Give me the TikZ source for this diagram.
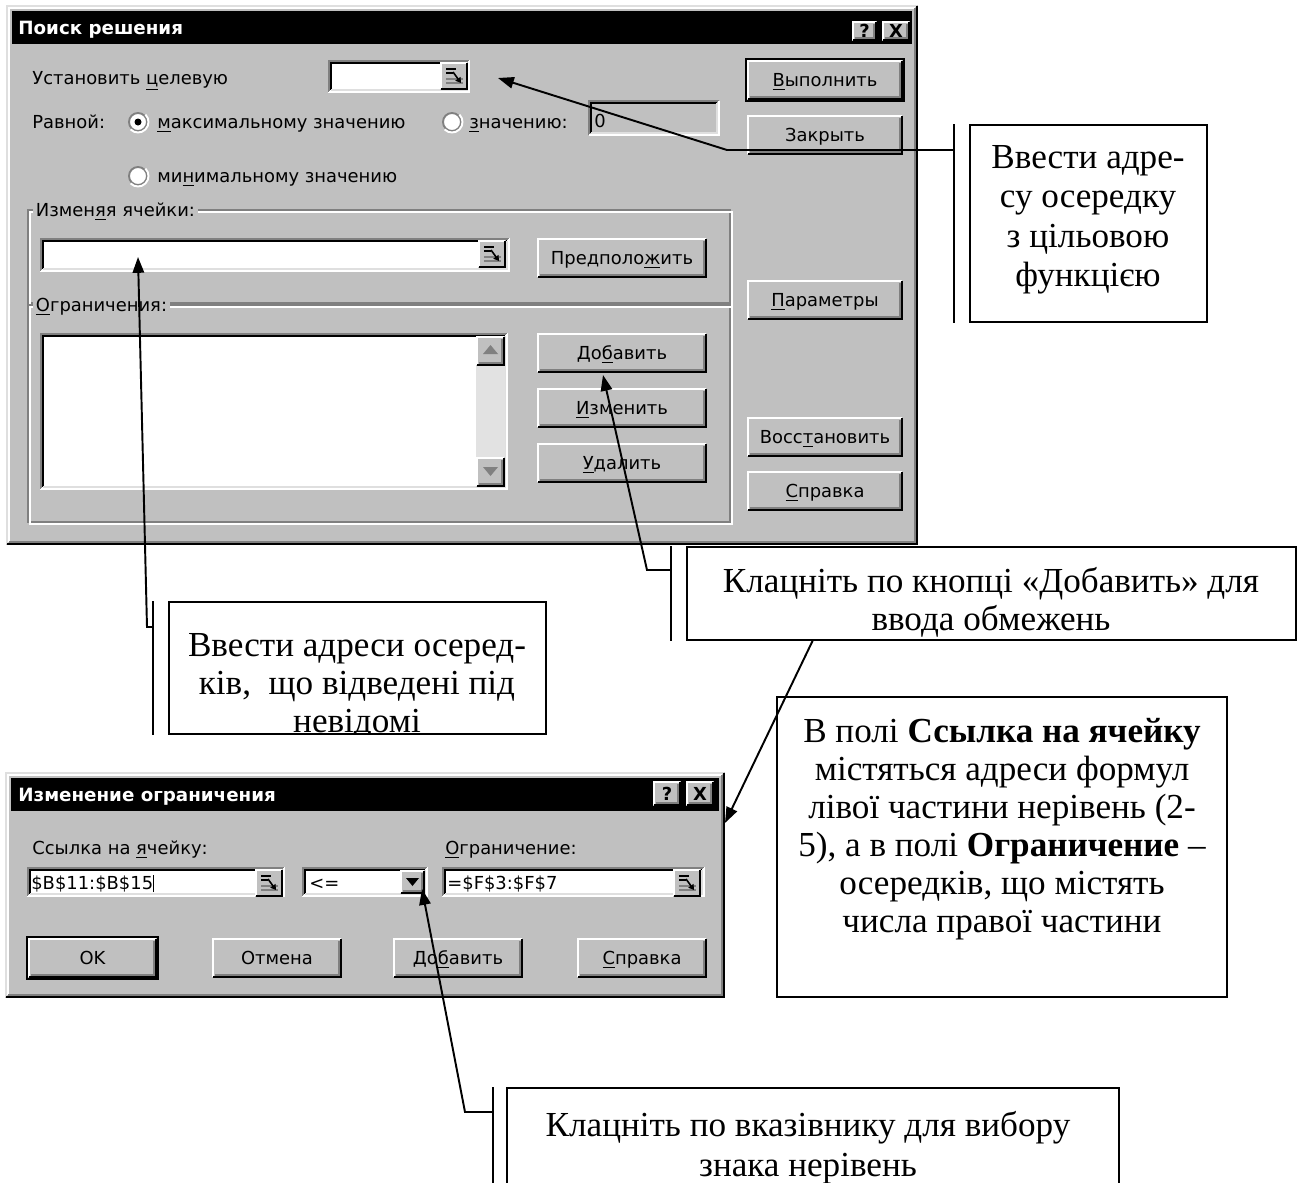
\documentclass[tikz,border=0pt]{standalone}
\usepackage{fontspec}
\setmainfont{Liberation Serif}
\newfontfamily\uifont{DejaVu Sans}
\usepackage{tikz}
\usetikzlibrary{arrows.meta, positioning, calc, fit}
\usepackage{xcolor}
\definecolor{winface}{HTML}{C0C0C0}
\definecolor{winshadow}{HTML}{808080}
\definecolor{winlight}{HTML}{DFDFDF}
\definecolor{windither}{HTML}{E2E2E2}

\begin{document}
\begin{tikzpicture}[x=0.02cm, y=-0.02cm,
    bevel/.style={line width=1.1pt},
    uitext/.style={font=\uifont\fontsize{10.2}{12}\selectfont, inner sep=0,
      text height=7.4pt, text depth=0pt},
    titletext/.style={font=\uifont\bfseries\fontsize{10.4}{12}\selectfont,
      text=white, inner sep=0, text height=7.6pt, text depth=0pt},
    callbox/.style={draw, line width=1.1pt, fill=white, inner sep=0},
    calltext/.style={font=\fontsize{20}{22.4}\selectfont, align=center, inner sep=0},
    accent/.style={line width=1.1pt},
    leader/.style={line width=1.1pt, -{Triangle[length=9pt, width=6.5pt]}}]
  \useasboundingbox (0,0) rectangle (1302,1183);

  % Dialog frames and title bars
  \foreach \xa/\ya/\xb/\yb in {6/5/918/545, 5/772/725/998} {
    \fill[winface] (\xa,\ya) rectangle (\xb,\yb);
    \draw[bevel, winlight] (\xa+1,\yb-1) -- (\xa+1,\ya+1) -- (\xb-1,\ya+1);
    \draw[bevel, white] (\xa+3,\yb-3) -- (\xa+3,\ya+3) -- (\xb-3,\ya+3);
    \draw[bevel, black] (\xa+1,\yb-1) -- (\xb-1,\yb-1) -- (\xb-1,\ya+1);
    \draw[bevel, winshadow] (\xa+3,\yb-3) -- (\xb-3,\yb-3) -- (\xb-3,\ya+3);
    \fill[black] (\xa+6,\ya+6) rectangle (\xb-6,\ya+39);
  }
  \node[titletext, anchor=west] (titleSolver) at (18,28) {Поиск решения};
  \node[titletext, anchor=west] (titleEdit) at (18,795) {Изменение ограничения};

  % Group frames
  \foreach \xa/\ya/\xb/\yb in {28/210/730/303, 28/305/730/522} {
    \draw[winshadow, line width=0.9pt] (\xa,\ya) rectangle (\xb,\yb);
    \draw[white, line width=0.9pt] (\xa+2,\ya+2) rectangle (\xb+2,\yb+2);
  }

  % Sunken fields
  \foreach \xa/\ya/\xb/\yb/\fcol in {328/60/470/93/white, 588/100/720/136/winface,
      40/238/510/272/white, 40/333/508/490/white, 27/867/285/897/white,
      302/867/428/897/white, 442/867/705/897/white} {
    \fill[\fcol] (\xa,\ya) rectangle (\xb,\yb);
    \draw[bevel, winshadow] (\xa+1,\yb-1) -- (\xa+1,\ya+1) -- (\xb-1,\ya+1);
    \draw[bevel, black] (\xa+3,\yb-3) -- (\xa+3,\ya+3) -- (\xb-3,\ya+3);
    \draw[bevel, white] (\xa+1,\yb-1) -- (\xb-1,\yb-1) -- (\xb-1,\ya+1);
    \draw[bevel, winlight] (\xa+3,\yb-3) -- (\xb-3,\yb-3) -- (\xb-3,\ya+3);
  }
  \fill[windither] (476,336) rectangle (505,487);

  % Raised buttons
  \foreach \xa/\ya/\xb/\yb/\bname/\txt in {
      852/21/877/41/help/{\bfseries ?}, 882/21/910/41/close/{\bfseries X},
      747/60/903/100/run/{\underline{В}ыполнить}, 747/115/903/155/quit/{Закрыть},
      747/280/903/320/opts/{\underline{П}араметры},
      747/417/903/457/reset/{Восс\underline{т}ановить},
      747/471/903/511/help1/{\underline{С}правка},
      537/238/707/278/guess/{Предполо\underline{ж}ить},
      537/333/707/373/add/{До\underline{б}авить},
      537/388/707/428/change/{\underline{И}зменить},
      537/443/707/483/delete/{\underline{У}далить},
      476/336/505/366/up/{}, 476/457/505/487/down/{},
      653/781/681/806/help2/{\bfseries ?}, 686/781/714/806/close2/{\bfseries X},
      400/870/425/894/drop/{},
      28/938/157/978/ok/{OK}, 212/938/342/978/cancel/{Отмена},
      393/938/523/978/add2/{До\underline{б}авить},
      577/938/707/978/help3/{\underline{С}правка}} {
    \fill[winface] (\xa,\ya) rectangle (\xb,\yb);
    \draw[bevel, white] (\xa+1,\yb-1) -- (\xa+1,\ya+1) -- (\xb-1,\ya+1);
    \draw[bevel, black] (\xa+1,\yb-1) -- (\xb-1,\yb-1) -- (\xb-1,\ya+1);
    \draw[bevel, winshadow] (\xa+3,\yb-3) -- (\xb-3,\yb-3) -- (\xb-3,\ya+3);
    \node[uitext] (btn-\bname) at ({(\xa+\xb)/2},{(\ya+\yb)/2}) {\txt};
  }
  % Default buttons
  \draw[bevel] (746,59) rectangle (904,101);
  \draw[bevel] (27,937) rectangle (158,979);

  % Arrow glyphs
  \fill[winshadow] (490.5,345) -- (483,354) -- (498,354) -- cycle;
  \fill[winshadow] (483,467) -- (498,467) -- (490.5,476) -- cycle;
  \fill (406,878) -- (419,878) -- (412.5,886) -- cycle;

  % Range picker icons
  \foreach \xa/\ya in {440/62, 478/240, 255/869, 673/869} {
    \fill[winface] (\xa,\ya) rectangle (\xa+28,\ya+28);
    \draw[bevel, white] (\xa+1,\ya+27) -- (\xa+1,\ya+1) -- (\xa+27,\ya+1);
    \draw[bevel, black] (\xa+1,\ya+27) -- (\xa+27,\ya+27) -- (\xa+27,\ya+1);
    \draw[line width=0.8pt] (\xa+6,\ya+7) -- (\xa+16,\ya+7)
      (\xa+6,\ya+11) -- (\xa+13,\ya+11);
    \draw[winshadow, line width=0.8pt] (\xa+6,\ya+17) -- (\xa+23,\ya+17)
      (\xa+6,\ya+21) -- (\xa+23,\ya+21);
    \draw[line width=0.9pt, -{Triangle[length=3pt, width=3.5pt]}]
      (\xa+13,\ya+10) -- (\xa+21,\ya+21);
  }

  % Radio buttons
  \foreach \cx/\cy in {138/122, 452/122, 138/176} {
    \fill[white] (\cx,\cy) circle (9);
    \draw[bevel, winshadow] (\cx,\cy) circle (9);
    \draw[bevel, white] (\cx,\cy) ++(-45:10.5) arc (-45:135:10.5);
  }
  \fill (138,122) circle (3.5);

  % Dialog texts
  \node[uitext, anchor=west] (lblTarget) at (32,78) {Установить \underline{ц}елевую};
  \node[uitext, anchor=west] (lblEqual) at (32,122) {Равной:};
  \node[uitext, anchor=west] (lblMax) at (157,122) {\underline{м}аксимальному значению};
  \node[uitext, anchor=west] (lblValue) at (469,122) {\underline{з}начению:};
  \node[uitext, anchor=west] (lblZero) at (594,121) {0};
  \node[uitext, anchor=west] (lblMin) at (157,176) {ми\underline{н}имальному значению};
  \node[uitext, anchor=west, fill=winface, inner xsep=1.5pt] (lblCells) at (33,210)
    {Измен\underline{я}я ячейки:};
  \node[uitext, anchor=west, fill=winface, inner xsep=1.5pt] (lblLimits) at (33,305)
    {\underline{О}граничения:};
  \node[uitext, anchor=west] (lblRef) at (32,848) {Ссылка на \underline{я}чейку:};
  \node[uitext, anchor=west] (lblLimit) at (445,848) {\underline{О}граничение:};
  \node[uitext, anchor=west] (valRef) at (31,883)
    {\$B\$11:\$B\$15\rule[-1.5pt]{0.7pt}{10pt}};
  \node[uitext, anchor=west] (valSign) at (309,883) {<=};
  \node[uitext, anchor=west] (valLimit) at (447,883) {=\$F\$3:\$F\$7};

  % Callout boxes
  \node[callbox, fit={(970,125) (1207,322)}] (goalBox) {};
  \node[calltext, anchor=north] (goalText) at (1088,145)
    {Ввести адре-\\су осередку\\з цільовою\\функцією};
  \node[callbox, fit={(169,602) (546,734)}] (cellsBox) {};
  \begin{scope}
    \clip (cellsBox.north west) rectangle (cellsBox.south east);
    \node[calltext, font=\fontsize{20}{21.6}\selectfont, anchor=north] (cellsText)
      at (357,633) {Ввести адреси осеред-\\ків,~ що відведені під\\невідомі};
  \end{scope}
  \node[callbox, fit={(687,547) (1296,640)}] (addBox) {};
  \node[calltext, font=\fontsize{20}{21.6}\selectfont, anchor=north] (addText)
    at (991,567) {Клацніть по кнопці «Добавить» для\\ввода обмежень};
  \node[callbox, fit={(777,697) (1227,997)}] (refBox) {};
  \node[calltext, font=\fontsize{20}{21.6}\selectfont, anchor=north] (refText)
    at (1002,718) {В полі \textbf{Ссылка на ячейку}\\містяться адреси формул\\
    лівої частини нерівень (2-\\5), а в полі \textbf{Ограничение} –\\
    осередків, що містять\\числа правої частини};
  \node[callbox, fit={(507,1088) (1119,1215)}] (signBox) {};
  \node[calltext, font=\fontsize{20}{23}\selectfont, anchor=north] (signText)
    at (808,1111) {Клацніть по вказівнику для вибору\\знака нерівень};

  % Leaders
  \coordinate (goalTip) at (498,78);
  \coordinate (goalBend) at (727,150);
  \coordinate (goalBar) at ([xshift=-0.3cm]goalBox.north west);
  \coordinate (cellsTip) at (138,257);
  \coordinate (cellsBend) at (147,627);
  \coordinate (cellsBar) at ([xshift=-0.3cm]cellsBox.north west);
  \coordinate (addTip) at (603,375);
  \coordinate (addBend) at (647,570);
  \coordinate (addBar) at ([xshift=-0.3cm]addBox.north west);
  \coordinate (refFrom) at (813,640);
  \coordinate (refTip) at (725,823);
  \coordinate (signTip) at (422,889);
  \coordinate (signBend) at (465,1112);
  \coordinate (signBar) at ([xshift=-0.26cm]signBox.north west);

  \draw[accent] (goalBar) -- (goalBar |- goalBox.south);
  \draw[leader] (goalBar |- goalBend) -- (goalBend) -- (goalTip);
  \draw[accent] (cellsBar) -- (cellsBar |- cellsBox.south);
  \draw[leader] (cellsBar |- cellsBend) -- (cellsBend) -- (cellsTip);
  \draw[accent] (addBar) -- (addBar |- addBox.south);
  \draw[leader] (addBar |- addBend) -- (addBend) -- (addTip);
  \draw[leader] (refFrom) -- (refTip);
  \draw[accent] (signBar) -- (signBar |- signBox.south);
  \draw[leader] (signBar |- signBend) -- (signBend) -- (signTip);
\end{tikzpicture}
\end{document}
